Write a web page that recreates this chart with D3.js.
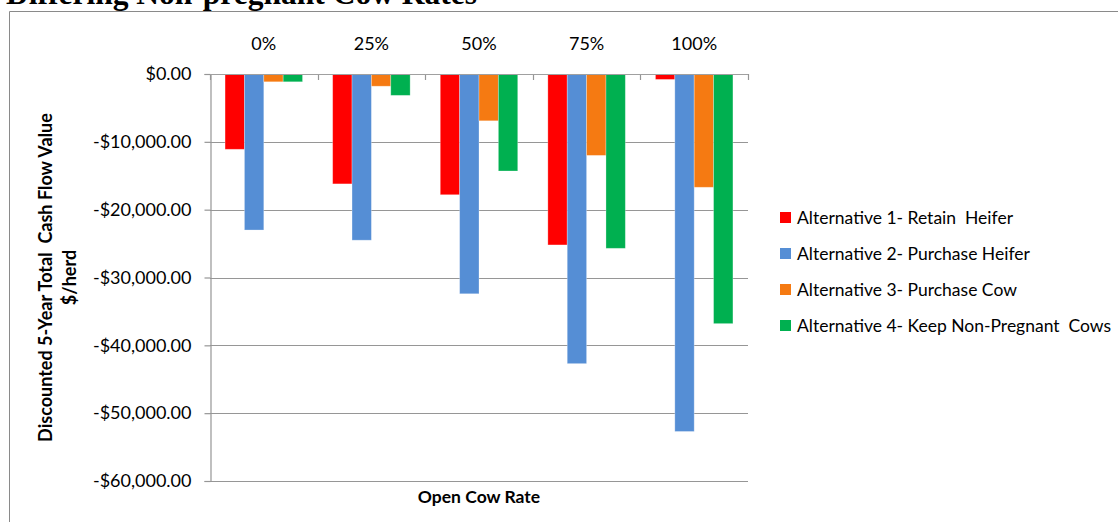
<!DOCTYPE html>
<html>
<head>
<meta charset="utf-8">
<script src="https://cdn.jsdelivr.net/npm/d3@7"></script>
<style>
  body { margin: 0; background: #fff; }
  svg { display: block; }
  text { font-family: Lato, "Noto Sans", sans-serif; fill: #000; }
</style>
</head>
<body>
<div id="chart"></div>
<script>
// Open cow rates (categories)
var categories = ["0%", "25%", "50%", "75%", "100%"];

// Series names shown in the legend
var seriesNames = [
  "Alternative 1- Retain  Heifer",
  "Alternative 2- Purchase Heifer",
  "Alternative 3- Purchase Cow",
  "Alternative 4- Keep Non-Pregnant  Cows"
];

// Discounted 5-year cash flow values, $/herd
var retainHeifer = [-11100, -16200, -17800, -25200, -800];
var purchaseHeifer = [-23000, -24500, -32400, -42700, -52700];
var purchaseCow = [-1150, -1800, -6900, -12000, -16700];
var keepOpenCows = [-1150, -3150, -14300, -25700, -36800];

var yTicks = [0, -10000, -20000, -30000, -40000, -50000, -60000];

document.addEventListener("DOMContentLoaded", function () {

    var w = 1118;
    var h = 522;

    var colors = ["#ff0000", "#558ed5", "#f57a12", "#00b050"];
    var allSeries = [retainHeifer, purchaseHeifer, purchaseCow, keepOpenCows];

    // rows of the table, one per category
    var rows = categories.map(function (c, i) {
      return { cat: c, values: allSeries.map(function (s) { return s[i]; }) };
    });

    var plot = { left: 210, right: 748, top: 74, bottom: 481 };

    var svg = d3.select("#chart")
      .append("svg")
      .attr("width", w)
      .attr("height", h);

    // Page title, cut off at the top of the picture
    svg.append("text")
      .attr("x", 6)
      .attr("y", 4)
      .style("font-family", "'Liberation Serif', 'Times New Roman', serif")
      .style("font-weight", "bold")
      .style("font-size", "31.5px")
      .text("Differing Non-pregnant Cow Rates");

    // Chart frame
    svg.append("path")
      .attr("d", "M9.5," + (h + 2) + "V11.5H" + (w + 2))
      .attr("fill", "none")
      .attr("stroke", "#8a8a8a")
      .attr("stroke-width", 1);

    // Scales
    var x0 = d3.scaleBand()
      .domain(categories)
      .range([plot.left, plot.right])
      .paddingInner(0.28)
      .paddingOuter(0.14);

    var x1 = d3.scaleBand()
      .domain(d3.range(seriesNames.length))
      .range([0, x0.bandwidth()]);

    var yScale = d3.scaleLinear()
      .domain([0, -60000])
      .range([plot.top, plot.bottom]);

    var money = d3.format(",.2f");
    function fmt(v) {
      return (v < 0 ? "-" : "") + "$" + money(Math.abs(v));
    }

    // Horizontal gridlines
    svg.append("g")
      .selectAll("line")
      .data(yTicks)
      .enter()
      .append("line")
      .attr("x1", plot.left)
      .attr("x2", plot.right)
      .attr("y1", function (d) { return Math.round(yScale(d)) + 0.5; })
      .attr("y2", function (d) { return Math.round(yScale(d)) + 0.5; })
      .attr("stroke", "#969696")
      .attr("stroke-width", 1.2);

    // Y axis
    var yAxis = d3.axisLeft(yScale)
      .tickValues(yTicks)
      .tickSize(6)
      .tickPadding(13)
      .tickFormat(fmt);

    var yg = svg.append("g")
      .attr("transform", "translate(" + (plot.left + 0.5) + ",0)")
      .call(yAxis);
    yg.select(".domain").attr("stroke", "#969696").attr("stroke-width", 1.2);
    yg.selectAll(".tick line").attr("stroke", "#969696").attr("stroke-width", 1.2);
    yg.selectAll(".tick text")
      .style("font-family", "Lato, sans-serif")
      .style("font-size", "18px")
      .attr("fill", "#000");

    // Bars
    var groups = svg.append("g")
      .selectAll("g")
      .data(rows)
      .enter()
      .append("g")
      .attr("transform", function (d) { return "translate(" + x0(d.cat) + ",0)"; });

    groups.selectAll("rect")
      .data(function (d) { return d.values; })
      .enter()
      .append("rect")
      .attr("x", function (d, i) { return x1(i); })
      .attr("y", yScale(0))
      .attr("width", x1.bandwidth())
      .attr("height", function (d) { return yScale(d) - yScale(0); })
      .attr("fill", function (d, i) { return colors[i]; })
      .attr("stroke", "#ffffff")
      .attr("stroke-opacity", 0.35)
      .attr("stroke-width", 0.8);

    // Category axis at zero line: boundary ticks pointing down
    var bounds = categories.map(function (c) { return x0(c) - x0.step() * x0.paddingOuter(); })
      .concat([plot.right]);
    svg.append("g")
      .selectAll("line")
      .data(bounds)
      .enter()
      .append("line")
      .attr("x1", function (d) { return Math.round(d) + 0.5; })
      .attr("x2", function (d) { return Math.round(d) + 0.5; })
      .attr("y1", yScale(0))
      .attr("y2", yScale(0) + 6)
      .attr("stroke", "#969696")
      .attr("stroke-width", 1.2);

    // Zero line drawn over the bars
    svg.append("line")
      .attr("x1", plot.left)
      .attr("x2", plot.right)
      .attr("y1", Math.round(yScale(0)) + 0.5)
      .attr("y2", Math.round(yScale(0)) + 0.5)
      .attr("stroke", "#a0a0a0")
      .attr("stroke-width", 1.2);

    // Category labels above the plot
    var xAxis = d3.axisTop(x0)
      .tickSize(0)
      .tickPadding(24);
    var xg = svg.append("g")
      .attr("transform", "translate(0," + yScale(0) + ")")
      .call(xAxis);
    xg.select(".domain").remove();
    xg.selectAll(".tick text")
      .style("font-family", "Lato, sans-serif")
      .style("font-size", "18px")
      .attr("fill", "#000");

    // Axis titles
    svg.append("text")
      .attr("x", (plot.left + plot.right) / 2)
      .attr("y", 503)
      .attr("text-anchor", "middle")
      .style("font-weight", "bold")
      .style("font-size", "17.5px")
      .text("Open Cow Rate");

    var yTitle = svg.append("text")
      .attr("transform", "translate(46," + ((plot.top + plot.bottom) / 2) + ") rotate(-90)")
      .attr("text-anchor", "middle")
      .style("font-weight", "bold")
      .style("font-size", "18px");
    yTitle.append("tspan")
      .attr("x", 0)
      .attr("dy", "0.35em")
      .style("white-space", "pre")
      .text("Discounted 5-Year Total  Cash Flow Value");
    yTitle.append("tspan")
      .attr("x", 0)
      .attr("dy", "1.3em")
      .text("$/herd");

    // Legend
    var legend = svg.append("g")
      .selectAll("g")
      .data(seriesNames)
      .enter()
      .append("g")
      .attr("transform", function (d, i) { return "translate(780," + (212 + i * 36) + ")"; });

    legend.append("rect")
      .attr("width", 11)
      .attr("height", 11)
      .attr("fill", function (d, i) { return colors[i]; });

    legend.append("text")
      .attr("x", 17)
      .attr("y", 5.5)
      .attr("dy", "0.35em")
      .style("font-size", "17.5px")
      .style("white-space", "pre")
      .text(function (d) { return d; });
});
</script>
</body>
</html>
